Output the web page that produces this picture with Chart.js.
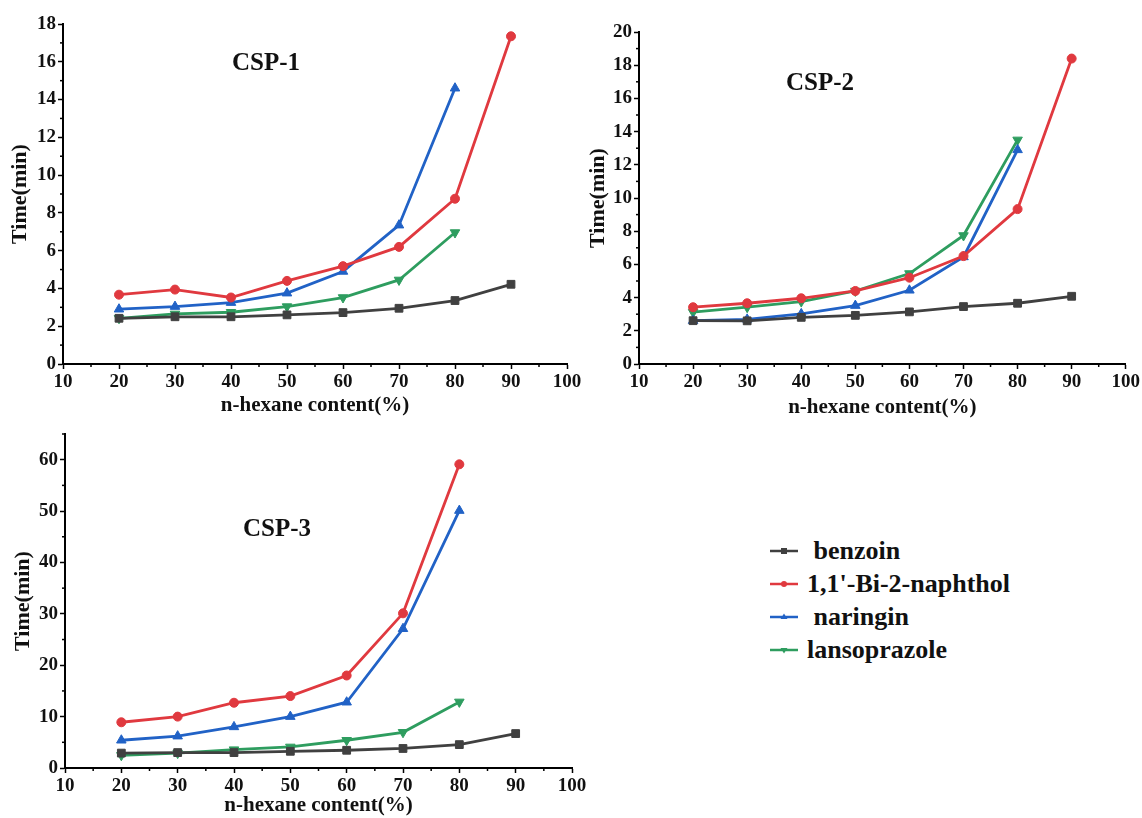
<!DOCTYPE html>
<html>
<head>
<meta charset="utf-8">
<script src="https://cdn.jsdelivr.net/npm/chart.js@4.4.1/dist/chart.umd.min.js"></script>
<style>
  body { margin: 0; background: #fff; width: 1142px; height: 818px; overflow: hidden; position: relative; }
  .box { position: absolute; }
  .tag { position: absolute; transform: translate(-50%, -50%); font: bold 25px "Liberation Serif", serif; color: #111; white-space: nowrap; }
  #legend { position: absolute; left: 770px; top: 534px; font: bold 26px "Liberation Serif", serif; color: #111; }
  #legend div { height: 33px; display: flex; align-items: center; white-space: pre; }
  #legend svg { margin-right: 9px; }
</style>
</head>
<body>

<div class="box" style="left:0;top:0"><canvas id="csp1" width="600" height="420"></canvas></div>
<div class="box" style="left:580px;top:0"><canvas id="csp2" width="562" height="420"></canvas></div>
<div class="box" style="left:0;top:420px"><canvas id="csp3" width="600" height="398"></canvas></div>

<div class="tag" style="left:266px;top:62px">CSP-1</div>
<div class="tag" style="left:820px;top:82px">CSP-2</div>
<div class="tag" style="left:277px;top:528px">CSP-3</div>

<div id="legend"></div>

<script>
// n-hexane content (%) in the mobile phase
const hexane = [20, 30, 40, 50, 60, 70, 80, 90];
const compounds = ['benzoin', "1,1'-Bi-2-naphthol", 'naringin', 'lansoprazole'];

// retention times (min), CSP-1
const csp1Benzoin = [2.42, 2.5, 2.5, 2.6, 2.72, 2.95, 3.36, 4.22];
const csp1Binol = [3.67, 3.94, 3.52, 4.4, 5.18, 6.2, 8.75, 17.35];
const csp1Naringin = [2.9, 3.04, 3.25, 3.75, 4.9, 7.35, 14.6];
const csp1Lanso = [2.42, 2.65, 2.74, 3.04, 3.52, 4.45, 6.96];

// CSP-2
const csp2Benzoin = [2.61, 2.6, 2.81, 2.93, 3.14, 3.46, 3.66, 4.08];
const csp2Binol = [3.42, 3.66, 3.96, 4.4, 5.2, 6.5, 9.33, 18.4];
const csp2Naringin = [2.61, 2.69, 3.02, 3.52, 4.44, 6.45, 12.9];
const csp2Lanso = [3.12, 3.42, 3.76, 4.4, 5.45, 7.74, 13.5];

// CSP-3
const csp3Benzoin = [2.9, 3.0, 3.0, 3.25, 3.45, 3.8, 4.55, 6.7];
const csp3Binol = [8.9, 10.0, 12.7, 14.0, 18.0, 30.1, 59.1];
const csp3Naringin = [5.4, 6.2, 8.0, 10.0, 12.8, 27.1, 50.1];
const csp3Lanso = [2.47, 2.9, 3.57, 4.1, 5.4, 6.95, 12.86];

const colors = ['#404040', '#e0393f', '#2162c6', '#2e9d5f'];
const styles = ['rect', 'circle', 'triangle', 'triangle'];
const rotations = [0, 0, 0, 180];
const radii = [5.5, 4.5, 5.5, 5.5];

const font = 'Liberation Serif';

// small ticks halfway between the labelled ones
const minorTicks = {
  id: 'minorTicks',
  afterDraw(chart) {
    const ctx = chart.ctx;
    const { x, y } = chart.scales;
    ctx.save();
    ctx.strokeStyle = '#000';
    ctx.lineWidth = 1.5;
    const xt = x.ticks.map(t => t.value);
    for (let i = 0; i < xt.length - 1; i++) {
      const px = x.getPixelForValue((xt[i] + xt[i + 1]) / 2);
      ctx.beginPath();
      ctx.moveTo(px, x.top);
      ctx.lineTo(px, x.top + 3);
      ctx.stroke();
    }
    const yt = y.ticks.map(t => t.value);
    const step = yt[1] - yt[0];
    for (let v = yt[0] + step / 2; v <= y.max; v += step) {
      const py = y.getPixelForValue(v);
      ctx.beginPath();
      ctx.moveTo(y.right, py);
      ctx.lineTo(y.right - 3, py);
      ctx.stroke();
    }
    ctx.restore();
  }
};

function makeChart(id, series, opts) {
  const datasets = series.map((vals, i) => ({
    label: compounds[i],
    data: vals.map((v, j) => ({ x: hexane[j], y: v })),
    borderColor: colors[i],
    backgroundColor: colors[i],
    borderWidth: 2.8,
    pointStyle: styles[i],
    pointRotation: rotations[i],
    pointRadius: radii[i],
    pointBorderWidth: 1,
    tension: 0
  }));

  return new Chart(document.getElementById(id), {
    type: 'line',
    data: { datasets: datasets },
    options: {
      responsive: false,
      animation: false,
      layout: { padding: { top: opts.top, right: opts.right, left: 0, bottom: 0 } },
      plugins: { legend: { display: false }, tooltip: { enabled: false } },
      scales: {
        x: {
          type: 'linear',
          min: 10, max: 100,
          afterFit: s => { s.height = opts.xHeight; },
          border: { color: '#000', width: 2 },
          grid: { drawOnChartArea: false, tickLength: 5, tickColor: '#000', tickWidth: 1.5 },
          ticks: { stepSize: 10, padding: 2, color: '#111', font: { family: font, size: 19, weight: 'bold' } },
          title: {
            display: true, text: 'n-hexane content(%)', color: '#111',
            padding: { top: 0, bottom: opts.xTitlePad },
            font: { family: font, size: 21, weight: 'bold' }
          }
        },
        y: {
          min: 0, max: opts.yMax,
          afterFit: s => { s.width = opts.yWidth; },
          border: { color: '#000', width: 2 },
          grid: { drawOnChartArea: false, tickLength: 5, tickColor: '#000', tickWidth: 1.5 },
          ticks: { stepSize: opts.yStep, includeBounds: false, padding: 2, color: '#111', font: { family: font, size: 19, weight: 'bold' } },
          title: {
            display: true, text: 'Time(min)', color: '#111',
            padding: { top: opts.yTitlePad, bottom: 0 },
            font: { family: font, size: 22, weight: 'bold' }
          }
        }
      }
    },
    plugins: [minorTicks]
  });
}

makeChart('csp1', [csp1Benzoin, csp1Binol, csp1Naringin, csp1Lanso],
  { top: 24, right: 33, xHeight: 56, yWidth: 63, yMax: 18, yStep: 2, xTitlePad: 2, yTitlePad: 7 });
makeChart('csp2', [csp2Benzoin, csp2Binol, csp2Naringin, csp2Lanso],
  { top: 32, right: 15, xHeight: 56, yWidth: 59, yMax: 20, yStep: 2, xTitlePad: 0, yTitlePad: 5 });
makeChart('csp3', [csp3Benzoin, csp3Binol, csp3Naringin, csp3Lanso],
  { top: 14, right: 28, xHeight: 50, yWidth: 65, yMax: 65, yStep: 10, xTitlePad: 0, yTitlePad: 10 });

// legend: short line with a tiny marker, then the name
const marks = [
  '<rect x="11" y="4" width="6" height="6"/>',
  '<circle cx="14" cy="7" r="3"/>',
  '<polygon points="14,3.5 17.5,9 10.5,9"/>',
  '<polygon points="14,10.5 17.5,5 10.5,5"/>'
];
const names = [' benzoin', "1,1'-Bi-2-naphthol", ' naringin', 'lansoprazole'];
const legend = document.getElementById('legend');
compounds.forEach((c, i) => {
  const row = document.createElement('div');
  row.innerHTML =
    `<svg width="28" height="14" style="fill:${colors[i]}">` +
    `<line x1="0" y1="7" x2="28" y2="7" stroke="${colors[i]}" stroke-width="2.5"/>${marks[i]}</svg>` +
    `<span>${names[i]}</span>`;
  legend.appendChild(row);
});
</script>
</body>
</html>
